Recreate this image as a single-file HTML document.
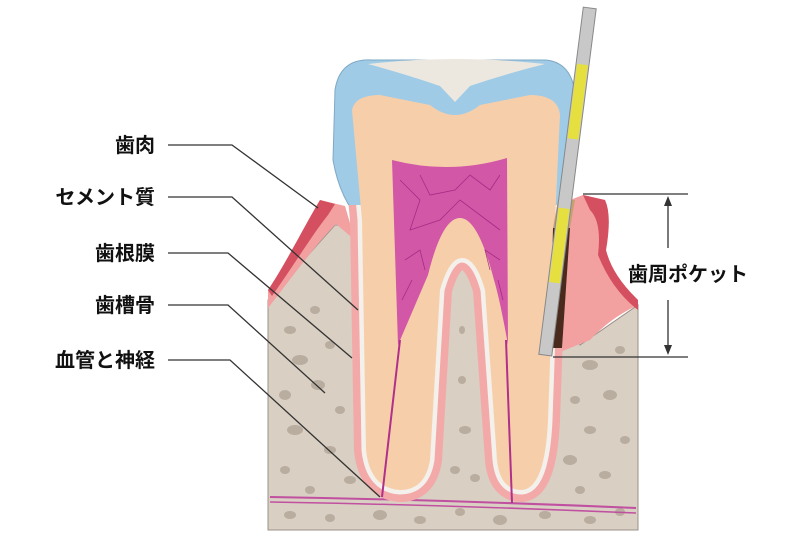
<!DOCTYPE html>
<html><head><meta charset="utf-8"><style>
html,body{margin:0;padding:0;background:#fff;}
svg{display:block}
text{font-family:"Liberation Sans","Noto Sans CJK JP",sans-serif;font-weight:bold;font-size:20px;fill:#111}
</style></head><body>
<svg width="800" height="559" viewBox="0 0 800 559" xmlns="http://www.w3.org/2000/svg">
<defs>
<clipPath id="low"><rect x="0" y="205" width="800" height="400"/></clipPath>
</defs>
<path d="M268,300 L335,225 L350,225 L560,240 L580,345 L638,305 L638,530 L268,530 Z" fill="#d9cfc3" stroke="#9a9088" stroke-width="1"/>
<g fill="#b9ad9f">
<ellipse cx="290" cy="330" rx="6" ry="4"/><ellipse cx="315" cy="310" rx="5" ry="4"/><ellipse cx="300" cy="360" rx="8" ry="5"/>
<ellipse cx="330" cy="345" rx="5" ry="4"/><ellipse cx="285" cy="395" rx="6" ry="5"/><ellipse cx="318" cy="385" rx="7" ry="5"/>
<ellipse cx="340" cy="410" rx="5" ry="4"/><ellipse cx="295" cy="430" rx="8" ry="5"/><ellipse cx="330" cy="450" rx="6" ry="4"/>
<ellipse cx="285" cy="470" rx="5" ry="4"/><ellipse cx="350" cy="480" rx="6" ry="4"/><ellipse cx="310" cy="490" rx="5" ry="4"/>
<ellipse cx="290" cy="515" rx="6" ry="4"/><ellipse cx="330" cy="518" rx="5" ry="4"/><ellipse cx="380" cy="515" rx="7" ry="5"/>
<ellipse cx="420" cy="520" rx="6" ry="4"/><ellipse cx="460" cy="512" rx="5" ry="4"/><ellipse cx="500" cy="520" rx="7" ry="5"/>
<ellipse cx="545" cy="515" rx="6" ry="4"/><ellipse cx="590" cy="520" rx="6" ry="4"/><ellipse cx="620" cy="512" rx="5" ry="4"/>
<ellipse cx="462" cy="330" rx="3" ry="4"/><ellipse cx="462" cy="380" rx="4" ry="4"/><ellipse cx="465" cy="430" rx="6" ry="4"/>
<ellipse cx="455" cy="470" rx="5" ry="4"/><ellipse cx="475" cy="478" rx="5" ry="4"/>
<ellipse cx="590" cy="365" rx="8" ry="5"/><ellipse cx="620" cy="350" rx="5" ry="4"/><ellipse cx="575" cy="400" rx="5" ry="4"/>
<ellipse cx="610" cy="395" rx="7" ry="5"/><ellipse cx="590" cy="430" rx="6" ry="4"/><ellipse cx="625" cy="440" rx="5" ry="4"/>
<ellipse cx="570" cy="460" rx="7" ry="5"/><ellipse cx="605" cy="475" rx="6" ry="4"/><ellipse cx="580" cy="490" rx="5" ry="4"/>
</g>
<path d="M270,497 Q450,500 636,508" stroke="#c050a0" stroke-width="2" fill="none"/>
<path d="M270,502 Q450,505 636,513" stroke="#c050a0" stroke-width="1.5" fill="none"/>
<path d="M268,290 C285,265 305,225 320,200 L345,206 L355,240 L336,224 C315,245 290,280 268,308 Z" fill="#f2a0a0"/>
<path d="M268,290 C285,265 305,225 320,200 L335,204 L328,215 C312,235 292,268 272,296 Z" fill="#d45060"/>
<path d="M583,195 L605,200 Q612,215 606,250 Q612,275 638,300 L638,305 Q610,318 590,340 L560,352 L570,200 Z" fill="#f2a0a0"/>
<path d="M583,195 L605,200 Q612,215 606,250 Q612,275 638,300 L638,310 Q612,290 598,255 Q602,222 590,210 Z" fill="#d45060"/>
<path d="M335,90 Q340,58 372,60 L545,60 Q577,62 576,110 L572,180 Q566,212 552,222 L362,222 Q340,200 333,160 Z" fill="#9fcbe6" stroke="#7fa9c6" stroke-width="1"/>
<path d="M368,64 Q455,54 545,64 Q505,74 470,86 L455,102 L440,86 Q405,74 368,64 Z" fill="#ece8e0"/>
<g clip-path="url(#low)">
<path d="M352,110 Q355,95 380,95 L430,105 Q455,125 480,105 L530,95 Q558,95 560,115 L555,220 L548,420 Q545,488 522,490 Q500,490 497,460 L485,290 Q476,258 462,258 Q449,258 440,290 L430,460 Q425,490 400,490 Q370,488 366,450 L362,220 Z" fill="#f2a9a8" stroke="#f2a9a8" stroke-width="24" stroke-linejoin="round"/>
<path d="M352,110 Q355,95 380,95 L430,105 Q455,125 480,105 L530,95 Q558,95 560,115 L555,220 L548,420 Q545,488 522,490 Q500,490 497,460 L485,290 Q476,258 462,258 Q449,258 440,290 L430,460 Q425,490 400,490 Q370,488 366,450 L362,220 Z" fill="#f4f0ec" stroke="#f4f0ec" stroke-width="9" stroke-linejoin="round"/>
</g>
<path d="M352,110 Q355,95 380,95 L430,105 Q455,125 480,105 L530,95 Q558,95 560,115 L555,220 L548,420 Q545,488 522,490 Q500,490 497,460 L485,290 Q476,258 462,258 Q449,258 440,290 L430,460 Q425,490 400,490 Q370,488 366,450 L362,220 Z" fill="#f6cfaa"/>
<path d="M553,228 L570,228 L562,348 L550,348 Z" fill="#4a2a1c"/>
<path d="M558,200 L575,200 L570,228 L553,228 Z" fill="#c8a070"/>
<path d="M392,160 Q450,175 507,158 L508,345 Q500,300 494,280 Q478,218 460,218 Q442,218 428,275 L398,345 Z" fill="#d257a6"/>
<g stroke="#9a2080" stroke-width="0.8" fill="none" opacity="0.8">
<path d="M400,180 L420,200 L410,230 L440,220 L460,200 L480,215 L500,230 M420,175 L430,195 L455,190 L470,175 L490,190 L500,175 M405,260 L420,250 L425,270 M500,260 L485,250 L490,270 M402,300 L412,280 M503,300 L498,280"/>
</g>
<path d="M400,340 L382,497 M506,340 L512,503" stroke="#b0308a" stroke-width="2" fill="none"/>
<g transform="rotate(7.3 590 10)">
<rect x="583" y="8" width="13" height="350" fill="#c8c8c8" stroke="#888" stroke-width="1"/>
<rect x="584" y="65" width="11" height="75" fill="#e6df40"/>
<rect x="584" y="210" width="11" height="75" fill="#e6df40"/>
</g>
<g stroke="#333" stroke-width="1.3" fill="none">
<path d="M168,145 L232,145 L318,208"/>
<path d="M168,197 L232,197 L358,310"/>
<path d="M168,253 L228,253 L352,358"/>
<path d="M168,305 L228,305 L325,393"/>
<path d="M168,360 L230,360 L380,497"/>
<path d="M583,194 L688,194 M553,357 L688,357"/>
<path d="M668,200 L668,248 M668,300 L668,351"/>
</g>
<path d="M668,196 L664,206 L672,206 Z M668,355 L664,345 L672,345 Z" fill="#333"/>
<text x="155" y="152" text-anchor="end">歯肉</text>
<text x="155" y="204" text-anchor="end">セメント質</text>
<text x="155" y="260" text-anchor="end">歯根膜</text>
<text x="155" y="312" text-anchor="end">歯槽骨</text>
<text x="155" y="367" text-anchor="end">血管と神経</text>
<text x="628" y="281">歯周ポケット</text>
</svg>
</body></html>
